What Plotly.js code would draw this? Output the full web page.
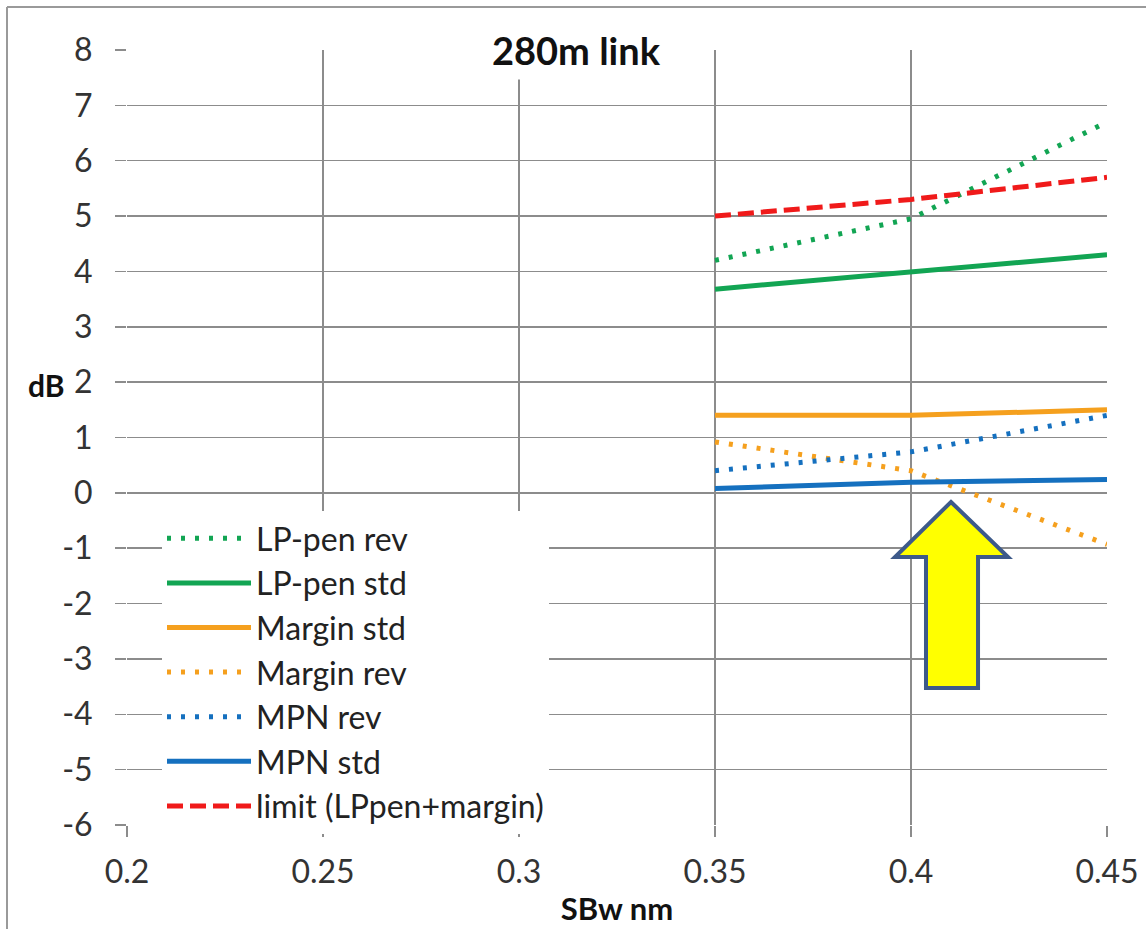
<!DOCTYPE html>
<html>
<head>
<meta charset="utf-8">
<script src="https://cdn.plot.ly/plotly-3.0.1.min.js"></script>
<style>html,body{margin:0;padding:0;background:#fff;}#chart{width:1146px;height:929px;}</style>
</head>
<body>
<div id="chart"></div>
<script>
// ---- data ----
const sbw = [0.35, 0.4, 0.45];
const lpPenRev = [4.2, 4.95, 6.7];
const lpPenStd = [3.68, 3.98, 4.3];
const marginStd = [1.4, 1.4, 1.5];
const marginRev = [0.92, 0.4, -0.93];
const mpnRev = [0.4, 0.74, 1.4];
const mpnStd = [0.08, 0.19, 0.24];
const limit = [5.0, 5.3, 5.7];
const seriesNames = ["LP-pen rev", "LP-pen std", "Margin std", "Margin rev", "MPN rev", "MPN std", "limit (LPpen+margin)"];
const xTicks = [0.2, 0.25, 0.3, 0.35, 0.4, 0.45];
const yTicks = [-6, -5, -4, -3, -2, -1, 0, 1, 2, 3, 4, 5, 6, 7, 8];
const chartTitle = "280m link";
const xTitle = "SBw nm";
const yTitle = "dB";

const GREEN = "#12a553", ORANGE = "#f5a01e", BLUE = "#1570bf", RED = "#f01a1a";
const DOT = "4px,10px", DASH = "16px,7px";
const W = 5;

function tr(y, name, color, dash, idx) {
  return {x: sbw, y: y, name: name, type: "scatter", mode: "lines",
    line: {color: color, width: W, dash: dash}, legendgroup: "g" + idx, legendrank: idx};
}
const data = [
  tr(lpPenRev, seriesNames[0], GREEN, DOT, 1),
  tr(lpPenStd, seriesNames[1], GREEN, "solid", 2),
  tr(marginStd, seriesNames[2], ORANGE, "solid", 3),
  tr(marginRev, seriesNames[3], ORANGE, DOT, 4),
  tr(mpnRev, seriesNames[4], BLUE, DOT, 5),
  tr(mpnStd, seriesNames[5], BLUE, "solid", 6),
  tr(limit, seriesNames[6], RED, DASH, 7)
];

// plot area in px: left 127, right 1107, top 50, bottom 825
const L = 127, R = 1107, T = 50, B = 825;
const px = v => (v - L) / (R - L);
const py = v => (B - v) / (B - T);

// arrow outline (paper coordinates derived from pixel layout)
const arrowPts = [[951, 502], [1008, 557], [978, 557], [978, 688], [926, 688], [926, 557], [895, 557]];
const arrowPath = "M" + arrowPts.map(p => px(p[0]).toFixed(4) + "," + py(p[1]).toFixed(4)).join(" L") + " Z";

const layout = {
  width: 1146, height: 929,
  margin: {l: L, r: 1146 - R, t: T, b: 929 - B},
  paper_bgcolor: "#fff", plot_bgcolor: "#fff",
  font: {family: "Lato, 'Open Sans', sans-serif", color: "#222"},
  showlegend: true,
  xaxis: {
    range: [0.2, 0.45], tickvals: xTicks, ticktext: xTicks.map(String),
    showgrid: true, gridcolor: "#8c8c8c", gridwidth: 1.5, zeroline: false,
    showline: false, ticks: "outside", ticklen: 11, tickcolor: "#8c8c8c", tickwidth: 1.5,
    tickfont: {size: 32, color: "#333"}, ticklabelstandoff: 8,
    title: {text: "<b>" + xTitle + "</b>", font: {size: 31, color: "#111"}, standoff: 8},
    fixedrange: true
  },
  yaxis: {
    range: [-6, 8], tickvals: yTicks, ticktext: yTicks.map(String),
    showgrid: true, gridcolor: "#8c8c8c", gridwidth: 1.5, zeroline: false,
    showline: false, ticks: "outside", ticklen: 11, tickcolor: "#8c8c8c", tickwidth: 1.5,
    tickfont: {size: 32, color: "#333"}, ticklabelstandoff: 16,
    fixedrange: true
  },
  legend: {
    x: px(162), y: py(511), xanchor: "left", yanchor: "top",
    bgcolor: "#fff", borderwidth: 0, font: {size: 32, color: "#222"},
    itemwidth: 84, tracegroupgap: 3, traceorder: "normal"
  },
  annotations: [
    {text: "<b>" + chartTitle + "</b>", xref: "paper", yref: "paper", x: px(576), y: py(50),
     xanchor: "center", yanchor: "middle", showarrow: false, bgcolor: "#fff", borderpad: 6,
     font: {size: 38, color: "#111"}},
    {text: "<b>" + yTitle + "</b>", xref: "paper", yref: "y", x: px(46), y: 1.95,
     xanchor: "center", yanchor: "middle", showarrow: false, font: {size: 30, color: "#111"}}
  ],
  shapes: [
    {type: "rect", xref: "paper", yref: "paper", x0: px(142), x1: px(598), y0: py(824), y1: py(515),
     fillcolor: "#fff", line: {width: 0}, layer: "between"},
    {type: "path", xref: "paper", yref: "paper", path: arrowPath,
     fillcolor: "#ffff00", line: {color: "#3d5a8a", width: 4}, layer: "above"},
    {type: "line", xref: "paper", yref: "paper", x0: px(7), x1: px(1146), y0: py(7), y1: py(7),
     line: {color: "#9a9a9a", width: 2}},
    {type: "line", xref: "paper", yref: "paper", x0: px(7), x1: px(7), y0: py(7), y1: py(929),
     line: {color: "#9a9a9a", width: 2}}
  ]
};

Plotly.newPlot("chart", data, layout, {displayModeBar: false, staticPlot: true});
</script>
</body>
</html>
